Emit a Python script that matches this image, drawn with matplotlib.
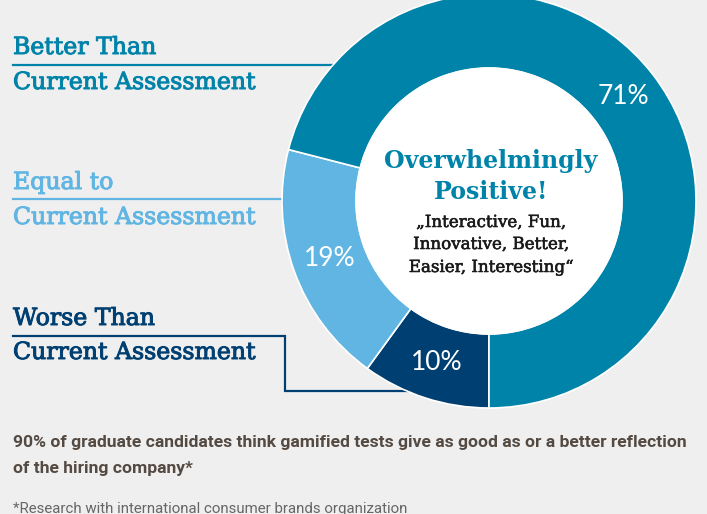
import matplotlib.pyplot as plt
import matplotlib.patheffects as pe
from matplotlib.patches import Circle

# data
shares = [10, 19, 71]
slice_colors = ["#003f71", "#60b5e3", "#0083a9"]
labels = [["Worse Than", "Current Assessment"],
          ["Equal to", "Current Assessment"],
          ["Better Than", "Current Assessment"]]
center_title = ["Overwhelmingly", "Positive!"]
center_words = ["\u201eInteractive, Fun,", "Innovative, Better,", "Easier, Interesting\u201c"]
caption = ["90% of graduate candidates think gamified tests give as good as or a better reflection",
           "of the hiring company*"]
footnote = "*Research with international consumer brands organization"

W, H = 707, 514
bg = "#efefef"
cx, cy = 489, H - 201
r_out, r_in = 207, 133

fig = plt.figure(figsize=(W / 100, H / 100), dpi=100, facecolor=bg)
ax = fig.add_axes([0, 0, 1, 1])
ax.set_facecolor(bg)

# connector lines (behind the donut)
ax.plot([13, cx], [H - 65, H - 65], color=slice_colors[2], lw=1.6, zorder=1)
ax.plot([13, cx], [H - 199, H - 199], color=slice_colors[1], lw=1.6, zorder=1)
ax.plot([13, 285, 285, cx], [H - 336, H - 336, H - 391, H - 391],
        color=slice_colors[0], lw=1.6, zorder=1, solid_joinstyle="miter")

wedges, _, autotexts = ax.pie(shares, colors=slice_colors, center=(cx, cy), radius=r_out,
                              startangle=270, counterclock=False,
                              autopct=lambda p: f"{p:.0f}%", pctdistance=0.82,
                              wedgeprops=dict(width=r_out - r_in, edgecolor="white", linewidth=1.2),
                              textprops=dict(color="white", fontsize=19, family="Lato"))
for w in wedges:
    w.set_zorder(2)
for t in autotexts:
    t.set_zorder(3)
ax.add_patch(Circle((cx, cy), r_in, color="white", zorder=2))

# left labels (slightly heavier than the book weight)
serif = "DejaVu Serif"
label_base = [(325, 359), (189, 224), (54, 89)]
for (l1, l2), (b1, b2), col in zip(labels, label_base, slice_colors):
    for txt, b in [(l1, b1), (l2, b2)]:
        ax.text(13, H - b, txt, color=col, fontsize=17, family=serif, va="baseline", ha="left",
                path_effects=[pe.withStroke(linewidth=0.7, foreground=col)])

# center text
ax.text(cx + 2, H - 168, center_title[0], color=slice_colors[2], fontsize=17, family=serif,
        fontweight="bold", ha="center", va="baseline", zorder=4)
ax.text(cx + 2, H - 199, center_title[1], color=slice_colors[2], fontsize=17, family=serif,
        fontweight="bold", ha="center", va="baseline", zorder=4)
for txt, b in zip(center_words, [227, 249, 272]):
    ax.text(cx + 2, H - b, txt, color="#1a1a1a", fontsize=12, family=serif,
            ha="center", va="baseline", zorder=4,
            path_effects=[pe.withStroke(linewidth=0.4, foreground="#1a1a1a")])

ax.set_xlim(0, W)
ax.set_ylim(0, H)
ax.set_aspect("equal")
ax.axis("off")

# caption, sized so the first line spans the reference width
sans = "Roboto"
c1 = ax.text(13, H - 447, caption[0], color="#544a42", fontsize=12.5, fontweight="bold",
             family=sans, ha="left", va="baseline")
c2 = ax.text(13, H - 473, caption[1], color="#544a42", fontsize=12.5, fontweight="bold",
             family=sans, ha="left", va="baseline")
fn = ax.text(13, H - 513, footnote, color="#666666", fontsize=11,
             family=sans, ha="left", va="baseline")
renderer = fig.canvas.get_renderer()
scale = 674 / c1.get_window_extent(renderer).width
c1.set_fontsize(12.5 * scale)
c2.set_fontsize(12.5 * scale)
scale_fn = 392 / fn.get_window_extent(renderer).width
fn.set_fontsize(11 * scale_fn)

fig.savefig("out.png", dpi=100, facecolor=bg)
